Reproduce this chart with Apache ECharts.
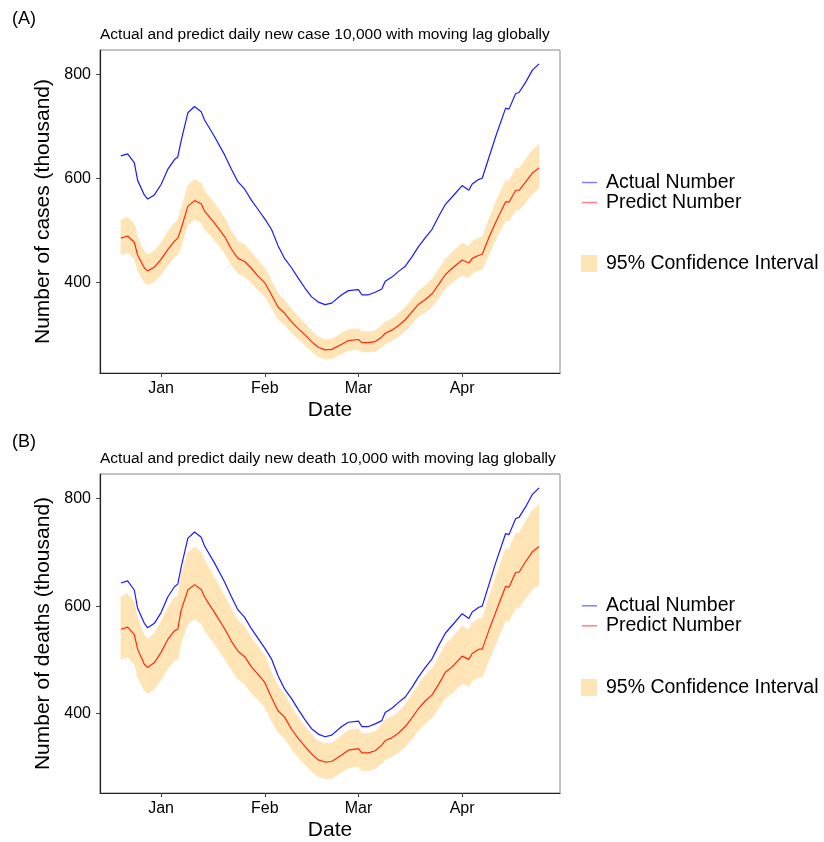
<!DOCTYPE html>
<html>
<head>
<meta charset="utf-8">
<script src="https://cdn.jsdelivr.net/npm/echarts@6/dist/echarts.min.js"></script>
<style>
  html, body { margin: 0; padding: 0; background: #fff; }
  #chart { width: 824px; height: 842px; }
</style>
</head>
<body>
<div id="chart"></div>
<script>
// days counted from 1 Jan (negative = December)
var days = [-12, -10, -8, -7, -5, -4, -2, 0, 2, 4, 5, 6, 8, 10, 12, 13, 16, 19, 21, 23, 25, 27, 29, 31, 33, 35,
  37, 39, 41, 43, 45, 47, 49, 51, 54, 56, 59, 60, 62, 64, 66, 67, 69, 71, 73, 75, 77, 79, 81, 83, 85, 87,
  90, 92, 93, 95, 96, 98, 100, 103, 104, 106, 107, 109, 111, 113];

// actual number (same in both panels)
var actual = [643, 647, 630, 596, 568, 560, 568, 588, 617, 636, 641, 672, 726, 738, 728, 712, 680, 645, 618, 593, 579, 558,
  540, 522, 502, 470, 445, 428, 408, 389, 372, 362, 357, 360, 376, 384, 386, 376, 376, 381, 387, 402, 410, 421,
  431, 449, 469, 486, 502, 527, 550, 564, 586, 577, 589, 598, 600, 640, 680, 735, 733, 763, 765, 785, 808, 820];

// panel A - cases
var predictA = [485, 489, 477, 452, 428, 422, 429, 444, 463, 479, 485, 503, 546, 557, 551, 537, 514, 488, 464, 446, 440, 427,
  412, 399, 376, 352, 340, 324, 311, 299, 286, 275, 270, 271, 281, 288, 290, 284, 284, 286, 295, 302, 308, 317,
  328, 343, 358, 367, 378, 396, 415, 427, 443, 437, 446, 452, 454, 486, 515, 555, 554, 577, 577, 593, 610, 620];
var upperA = [520, 525, 512, 485, 459, 453, 460, 476, 497, 514, 520, 540, 586, 598, 591, 576, 552, 524, 498, 479, 472, 458,
  442, 428, 403, 378, 365, 348, 334, 321, 307, 295, 290, 291, 302, 309, 311, 305, 305, 307, 317, 324, 330, 340,
  352, 368, 384, 394, 406, 425, 445, 458, 475, 469, 479, 485, 487, 521, 553, 596, 594, 619, 619, 636, 655, 665];
var lowerA = [453, 457, 446, 423, 400, 395, 401, 415, 433, 448, 453, 470, 511, 521, 515, 502, 481, 456, 434, 417, 411, 399,
  385, 373, 352, 329, 318, 303, 291, 280, 267, 257, 252, 253, 263, 269, 271, 266, 266, 267, 276, 282, 288, 296,
  307, 321, 335, 343, 353, 370, 388, 399, 414, 409, 417, 423, 424, 454, 482, 519, 518, 539, 539, 554, 570, 580];

// panel B - deaths
var predictB = [557, 561, 547, 520, 492, 486, 495, 514, 538, 554, 557, 592, 630, 640, 631, 617, 588, 558, 535, 516, 506, 487,
  473, 458, 430, 405, 393, 371, 354, 339, 325, 314, 310, 311, 323, 332, 335, 327, 327, 331, 342, 350, 355, 364,
  376, 392, 410, 424, 435, 455, 477, 487, 507, 501, 512, 520, 520, 555, 588, 637, 635, 663, 663, 683, 701, 711];
var upperB = [618, 623, 607, 577, 546, 539, 549, 571, 597, 615, 618, 657, 699, 710, 700, 685, 653, 619, 594, 573, 562, 541,
  525, 508, 477, 450, 436, 412, 393, 376, 361, 349, 344, 345, 359, 369, 372, 363, 363, 367, 380, 389, 394, 404,
  417, 435, 455, 471, 483, 505, 529, 541, 563, 556, 568, 577, 577, 616, 653, 707, 705, 736, 736, 758, 778, 789];
var lowerB = [501, 505, 492, 468, 443, 437, 446, 463, 484, 499, 501, 533, 567, 576, 568, 555, 529, 502, 482, 464, 455, 438,
  426, 412, 387, 365, 354, 334, 319, 305, 293, 283, 279, 280, 291, 299, 302, 294, 294, 298, 308, 315, 320, 328,
  338, 353, 369, 382, 392, 410, 429, 438, 456, 451, 461, 468, 468, 500, 529, 573, 572, 597, 597, 615, 631, 640];

var monthTicks = [0, 31, 59, 90];
var monthLabels = ['Jan', 'Feb', 'Mar', 'Apr'];
var yTicks = [400, 600, 800];

var FONT = '"Liberation Sans", Arial, sans-serif';
var BAND = '#FFE4B5';

function pairs(vals) {
  return days.map(function (d, i) { return [d, vals[i]]; });
}
// one segment per item: [d0, lo0, hi0, d1, lo1, hi1]
function bandData(hi, lo) {
  var out = [];
  for (var i = 0; i < days.length - 1; i++) {
    out.push([days[i], lo[i], hi[i], days[i + 1], lo[i + 1], hi[i + 1]]);
  }
  return out;
}

var myChart = echarts.init(document.getElementById('chart'));

function xAxisOf(idx) {
  return {
    type: 'value',
    gridIndex: idx,
    min: -18.25,
    max: 119.25,
    name: 'Date',
    nameLocation: 'middle',
    nameGap: 27,
    nameTextStyle: { fontSize: 21, color: '#000', fontFamily: FONT },
    splitLine: { show: false },
    axisLine: { show: true, onZero: false, lineStyle: { color: '#222', width: 1.2 } },
    axisTick: { show: true, length: 4, customValues: monthTicks, lineStyle: { color: '#444' } },
    axisLabel: {
      customValues: monthTicks,
      margin: 8,
      fontSize: 16,
      color: '#000',
      fontFamily: FONT,
      formatter: function (v) { return monthLabels[monthTicks.indexOf(v)]; }
    }
  };
}

function yAxisOf(idx, min, max, name) {
  return {
    type: 'value',
    gridIndex: idx,
    min: min,
    max: max,
    name: name,
    nameLocation: 'middle',
    nameGap: 36,
    nameTextStyle: { fontSize: 21, color: '#000', fontFamily: FONT },
    splitLine: { show: false },
    axisLine: { show: true, onZero: false, lineStyle: { color: '#222', width: 1.2 } },
    axisTick: { show: true, length: 4, customValues: yTicks, lineStyle: { color: '#444' } },
    axisLabel: { customValues: yTicks, margin: 9, fontSize: 16, color: '#000', fontFamily: FONT }
  };
}

// 置信区间带，每段画一个四边形
function renderBand(params, api) {
  var a0 = api.coord([api.value(0), api.value(1)]);
  var b0 = api.coord([api.value(0), api.value(2)]);
  var a1 = api.coord([api.value(3), api.value(4)]);
  var b1 = api.coord([api.value(3), api.value(5)]);
  return {
    type: 'polygon',
    shape: { points: [a0, a1, b1, b0] },
    style: { fill: BAND, stroke: BAND, lineWidth: 0.6 },
    silent: true
  };
}

function panelSeries(idx, pred, hi, lo) {
  return [
    {
      name: '95% Confidence Interval',
      type: 'custom',
      xAxisIndex: idx, yAxisIndex: idx,
      renderItem: renderBand,
      itemStyle: { color: BAND },
      encode: { x: [0, 3], y: [1, 2, 4, 5] },
      clip: true,
      data: bandData(hi, lo)
    },
    {
      name: 'Actual Number',
      type: 'line',
      xAxisIndex: idx, yAxisIndex: idx,
      symbol: 'none',
      itemStyle: { color: '#1a1aff' },
      lineStyle: { color: '#1a1aff', width: 1.2 },
      data: pairs(actual)
    },
    {
      name: 'Predict Number',
      type: 'line',
      xAxisIndex: idx, yAxisIndex: idx,
      symbol: 'none',
      itemStyle: { color: '#ff2a10' },
      lineStyle: { color: '#ff2a10', width: 1.2 },
      data: pairs(pred)
    }
  ];
}

function lineLegend(top) {
  return {
    left: 582, top: top, orient: 'vertical', padding: 0, itemGap: 0,
    itemWidth: 15, itemHeight: 1.5, icon: 'rect',
    selectedMode: false,
    textStyle: { fontSize: 19.5, lineHeight: 18.5, color: '#000', fontFamily: FONT, padding: [0, 0, 0, 4] },
    data: [
      { name: 'Actual Number', itemStyle: { color: '#8080ff' } },
      { name: 'Predict Number', itemStyle: { color: '#ff8080' } }
    ]
  };
}
function bandLegend(top) {
  return {
    left: 581, top: top, orient: 'vertical', padding: 0,
    itemWidth: 16, itemHeight: 17, icon: 'rect',
    selectedMode: false,
    textStyle: { fontSize: 19.5, color: '#000', fontFamily: FONT, padding: [0, 0, 0, 4] },
    data: [{ name: '95% Confidence Interval', itemStyle: { color: BAND } }]
  };
}

function titleText(text, left, top, size) {
  return { text: text, left: left, top: top, padding: 0,
    textStyle: { fontSize: size, fontWeight: 'normal', color: '#000', fontFamily: FONT } };
}

var option = {
  backgroundColor: '#fff',
  animation: false,
  title: [
    titleText('(A)', 12, 10, 18),
    titleText('Actual and predict daily new case 10,000 with moving lag globally', 100, 27, 15.5),
    titleText('(B)', 12, 433, 18),
    titleText('Actual and predict daily new death 10,000 with moving lag globally', 100, 451, 15.5)
  ],
  legend: [lineLegend(172.5), bandLegend(253.5), lineLegend(595.8), bandLegend(677.5)],
  grid: [
    { left: 100, top: 50, width: 460, height: 323, show: true, borderColor: '#8a8a8a', borderWidth: 1 },
    { left: 100, top: 474, width: 460, height: 324, show: true, borderColor: '#8a8a8a', borderWidth: 1 }
  ],
  xAxis: [xAxisOf(0), xAxisOf(1)],
  yAxis: [
    yAxisOf(0, 225.6, 846.7, 'Number of cases (thousand)'),
    yAxisOf(1, 252.4, 845.8, 'Number of deaths (thousand)')
  ],
  series: panelSeries(0, predictA, upperA, lowerA).concat(panelSeries(1, predictB, upperB, lowerB))
};

myChart.setOption(option);
</script>
</body>
</html>
